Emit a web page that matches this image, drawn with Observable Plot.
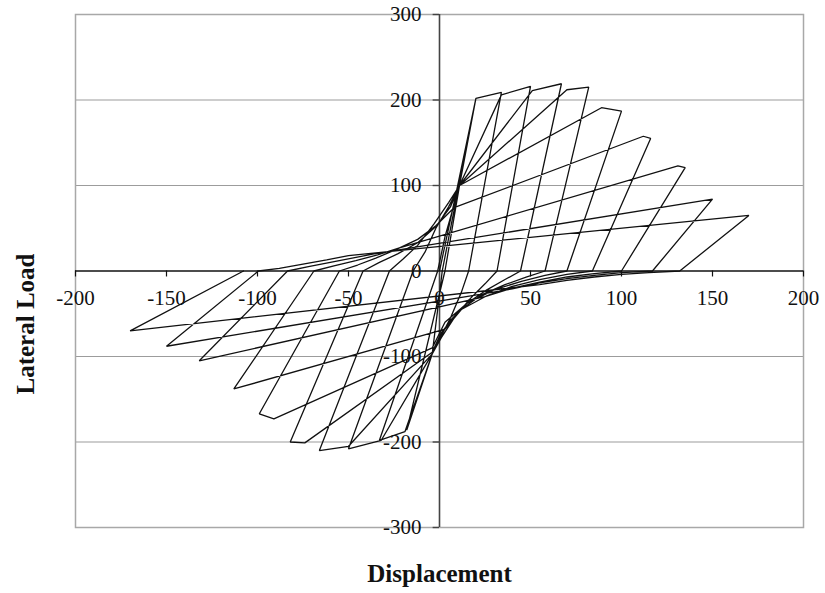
<!DOCTYPE html>
<html><head><meta charset="utf-8">
<script src="https://cdn.jsdelivr.net/npm/d3@7"></script>
<script src="https://cdn.jsdelivr.net/npm/@observablehq/plot@0.6"></script>
<style>body{margin:0;background:#fff}</style>
</head><body><div id="chart"></div>
<script>
// Load path, one array per cycle: [displacement, lateral load]
const cycle1 = [[0,0],[10,100],[20,202],[1.5,0],[-1,-45],[-4,-97],[-18,-186],[3,0]];
const cycle2 = [[11,100],[20,202],[34,209],[16,0],[12,-25],[6,-55],[0,-80],[-4,-97],[-19,-188],[-33,-198],[-1,0]];
const cycle3 = [[3,40],[7,70],[11,100],[34,206],[50,216],[31.6,0],[25,-15],[17,-32],[8,-55],[1,-78],[-4,-97],[-32,-198],[-50,-208],[-14.5,0]];
const cycle4 = [[-8,22],[-2,50],[5,75],[11,100],[51,211],[67,219],[44.5,0],[36,-10],[26,-22],[15,-38],[5,-60],[-1,-82],[-4,-97],[-50,-205],[-66,-210],[-27.5,0]];
const cycle5 = [[-20,14],[-12,30],[-3,55],[5,80],[11,100],[70,212],[82,215],[58,0],[48,-7],[36,-16],[23,-28],[10,-48],[1,-72],[-4,-95],[-74,-201],[-82,-200],[-42,0]];
const cycle6 = [[-33,10],[-23,20],[-12,33],[-2,52],[6,75],[11,100],[89,191],[100,187],[70,0],[58,-5],[45,-12],[30,-22],[15,-38],[3,-60],[-4,-90],[-91,-173],[-99,-167],[-55,0]];
const cycle7 = [[-45,7],[-35,15],[-24,25],[-12,37],[-2,53],[8,74],[112,157.6],[116,155],[84,0],[70,-4],[55,-10],[40,-18],[26,-29],[12,-45],[3,-68],[-113,-138],[-69,0]];
const cycle8 = [[-58,6],[-46,12],[-34,19],[-22,27],[131,123],[135,121],[100,0],[85,-3],[70,-7],[55,-13],[40,-20],[25,-30],[-132,-105],[-83.5,0]];
const cycle9 = [[-72,5],[-60,10],[-48,15],[-36,20],[150,84],[117,0],[100,-2],[85,-5],[70,-9],[55,-14],[40,-21],[-150,-88],[-99.5,0]];
const cycle10 = [[-88,3],[-75,8],[-62,13],[-50,18],[170,65],[132,0],[115,-2],[100,-4],[85,-7],[70,-11],[55,-16],[-170,-70],[-107.7,0]];

const xTicks = [-200,-150,-100,-50,0,50,100,150,200];
const yTicks = [-300,-200,-100,0,100,200,300];
const gridY = [-200,-100,100,200];
const xTitle = "Displacement";
const yTitle = "Lateral Load";

const points = [cycle1,cycle2,cycle3,cycle4,cycle5,cycle6,cycle7,cycle8,cycle9,cycle10]
  .flat().map(([d,l]) => ({d, l}));

const chart = Plot.plot({
  width: 825, height: 593,
  marginLeft: 75, marginRight: 22, marginTop: 14, marginBottom: 66,
  x: {domain: [-200, 200], axis: null},
  y: {domain: [-300, 300], axis: null},
  style: {fontFamily: "'Liberation Serif', 'Times New Roman', serif", background: "#fff", overflow: "visible"},
  marks: [
    Plot.ruleY(gridY, {stroke: "#9c9c9c", strokeWidth: 1.2}),
    Plot.frame({stroke: "#a8a8a8", strokeWidth: 1.5}),
    Plot.ruleY([0], {stroke: "#111", strokeWidth: 1.4}),
    Plot.ruleX([0], {stroke: "#444", strokeWidth: 1.6}),
    Plot.ruleY(yTicks, {x1: -3.5, x2: 0, stroke: "#444", strokeWidth: 1.4}),
    Plot.ruleX(xTicks.filter(t => t !== 0), {y1: 0, y2: -7, stroke: "#111", strokeWidth: 1.2}),
    Plot.line(points, {x: "d", y: "l", stroke: "#111", strokeWidth: 1.3, strokeLinejoin: "miter"}),
    Plot.text(yTicks, {x: 0, y: d => d, text: d => String(d), textAnchor: "end", dx: -18, fontSize: 21, fill: "#111"}),
    Plot.text(xTicks, {x: d => d, y: 0, text: d => String(d), dy: 27, fontSize: 21, fill: "#111"}),
    Plot.text([xTitle], {frameAnchor: "bottom", text: d => d, lineAnchor: "middle", textAnchor: "middle", dy: 46, fontSize: 25, fontWeight: "bold", fill: "#111"}),
    Plot.text([yTitle], {frameAnchor: "left", text: d => d, rotate: -90, textAnchor: "middle", lineAnchor: "middle", dx: -50, dy: 53, fontSize: 25, fontWeight: "bold", fill: "#111"})
  ]
});
document.getElementById("chart").append(chart);
</script>
</body></html>
